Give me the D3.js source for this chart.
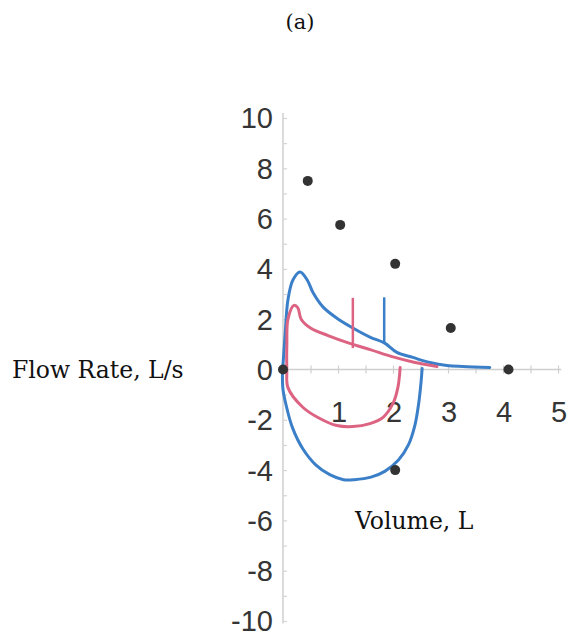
<!DOCTYPE html>
<html>
<head>
<meta charset="utf-8">
<script src="https://cdn.jsdelivr.net/npm/d3@7"></script>
<style>
  html, body { margin: 0; padding: 0; background: #fff; }
  svg { display: block; }
</style>
</head>
<body>
<svg id="chart" width="573" height="644"></svg>
<script>
// Flow–volume loops: volume (L) on x, flow rate (L/s) on y.
const xTicks = [1, 2, 3, 4, 5];
const yTicks = [10, 8, 6, 4, 2, 0, -2, -4, -6, -8, -10];

// Larger loop (blue): inspiratory limb below the axis, then the expiratory limb
const blueLoopX = [2.53, 2.51, 2.47, 2.4, 2.28, 2.1, 1.85, 1.6, 1.3, 1.1, 0.85, 0.6, 0.36, 0.17, 0.06, 0.0, -0.01, 0.01, 0.04, 0.09, 0.18, 0.31, 0.44, 0.55, 0.73, 0.98, 1.27, 1.58, 1.85, 2.07, 2.36, 2.67, 2.98, 3.27, 3.76];
const blueLoopY = [0.04, -0.5, -1.3, -2.2, -3.0, -3.6, -4.05, -4.28, -4.38, -4.38, -4.18, -3.8, -3.15, -2.3, -1.45, -0.8, -0.2, 0.5, 1.45, 2.77, 3.56, 3.88, 3.56, 3.04, 2.48, 2.04, 1.65, 1.29, 1.05, 0.68, 0.48, 0.28, 0.16, 0.12, 0.08];

// Smaller loop (pink)
const pinkLoopX = [2.13, 2.09, 2.0, 1.82, 1.58, 1.27, 0.98, 0.67, 0.36, 0.09, 0.07, 0.07, 0.09, 0.2, 0.27, 0.33, 0.5, 0.82, 1.2, 1.6, 2.0, 2.4, 2.8];
const pinkLoopY = [0.08, -0.7, -1.35, -1.9, -2.15, -2.27, -2.23, -1.95, -1.5, -0.72, 0.0, 1.0, 2.0, 2.55, 2.45, 2.0, 1.65, 1.35, 1.05, 0.78, 0.5, 0.28, 0.12];

// Vertical markers on each expiratory limb
const markerX = [1.27, 1.84];
const markerTop = [2.85, 2.87];
const markerBottom = [0.85, 1.03];
const markerSeries = ["pink", "blue"];

// Predicted points
const pointX = [0.0, 0.45, 1.04, 2.04, 3.05, 4.1, 2.04];
const pointY = [0.0, 7.5, 5.75, 4.2, 1.65, 0.0, -4.0];

const colors = { blue: "#3b7fc8", pink: "#dc6482" };

const svg = d3.select("#chart");

const x = d3.scaleLinear().domain([0, 5]).range([283, 558]);
const y = d3.scaleLinear().domain([-10, 10]).range([621, 118]);

// Title
svg.append("text")
  .attr("x", 300).attr("y", 29)
  .attr("text-anchor", "middle")
  .attr("font-family", "'DejaVu Serif', serif")
  .attr("font-size", 21)
  .attr("fill", "#111")
  .text("(a)");

// Y axis (runs through x = 0)
const yAxis = d3.axisRight(y)
  .tickValues(d3.range(-10, 11, 1))
  .tickSize(4)
  .tickFormat("");
const gy = svg.append("g")
  .attr("transform", `translate(${x(0)},0)`)
  .call(yAxis);
gy.select(".domain").attr("stroke", "#cfcfcf").attr("stroke-width", 1.5)
  .attr("d", `M0,${y(10.2)}V${y(-10.1)}`);
gy.selectAll(".tick line").attr("stroke", "#d4d4d4").attr("stroke-width", 1.2);

// X axis (runs through y = 0)
const xAxis = d3.axisBottom(x)
  .tickValues(d3.range(0.5, 5.01, 0.5))
  .tickSize(4)
  .tickFormat("");
const gx = svg.append("g")
  .attr("transform", `translate(0,${y(0)})`)
  .call(xAxis);
gx.select(".domain").attr("stroke", "#cfcfcf").attr("stroke-width", 1.5)
  .attr("d", `M${x(0)},0H${x(5.06)}`);
gx.selectAll(".tick line").attr("stroke", "#cfcfcf").attr("stroke-width", 1.2).attr("y1", -4);

// Tick labels
svg.append("g").selectAll("text")
  .data(yTicks)
  .join("text")
  .attr("x", 273)
  .attr("y", d => y(d))
  .attr("dy", "0.36em")
  .attr("text-anchor", "end")
  .attr("font-family", "'Liberation Sans', Arial, sans-serif")
  .attr("font-size", 29)
  .attr("fill", "#353535")
  .text(d => d);

svg.append("g").selectAll("text")
  .data(xTicks)
  .join("text")
  .attr("x", d => x(d) + 1)
  .attr("y", 422)
  .attr("text-anchor", "middle")
  .attr("font-family", "'Liberation Sans', Arial, sans-serif")
  .attr("font-size", 29)
  .attr("fill", "#353535")
  .text(d => d);

// Axis titles
svg.append("text")
  .attr("x", 12).attr("y", 378)
  .attr("font-family", "'DejaVu Serif', serif")
  .attr("font-size", 23.5)
  .attr("fill", "#111")
  .text("Flow Rate, L/s");

svg.append("text")
  .attr("x", 355).attr("y", 529)
  .attr("font-family", "'DejaVu Serif', serif")
  .attr("font-size", 23.5)
  .attr("fill", "#111")
  .text("Volume, L");

// Loops
const line = d3.line()
  .x(d => x(d[0]))
  .y(d => y(d[1]))
  .curve(d3.curveCatmullRom.alpha(0.5));

const loops = [
  { key: "blue", pts: d3.zip(blueLoopX, blueLoopY) },
  { key: "pink", pts: d3.zip(pinkLoopX, pinkLoopY) }
];

svg.append("g").selectAll("path")
  .data(loops)
  .join("path")
  .attr("d", d => line(d.pts))
  .attr("fill", "none")
  .attr("stroke", d => colors[d.key])
  .attr("stroke-width", 3)
  .attr("stroke-linejoin", "round")
  .attr("stroke-linecap", "round");

// Vertical markers
svg.append("g").selectAll("line")
  .data(markerX.map((v, i) => ({ x: v, top: markerTop[i], bottom: markerBottom[i], key: markerSeries[i] })))
  .join("line")
  .attr("x1", d => x(d.x)).attr("x2", d => x(d.x))
  .attr("y1", d => y(d.top)).attr("y2", d => y(d.bottom))
  .attr("stroke", d => colors[d.key])
  .attr("stroke-width", 2.5);

// Points
svg.append("g").selectAll("circle")
  .data(d3.zip(pointX, pointY))
  .join("circle")
  .attr("cx", d => x(d[0]))
  .attr("cy", d => y(d[1]))
  .attr("r", 5)
  .attr("fill", "#333");
</script>
</body>
</html>
